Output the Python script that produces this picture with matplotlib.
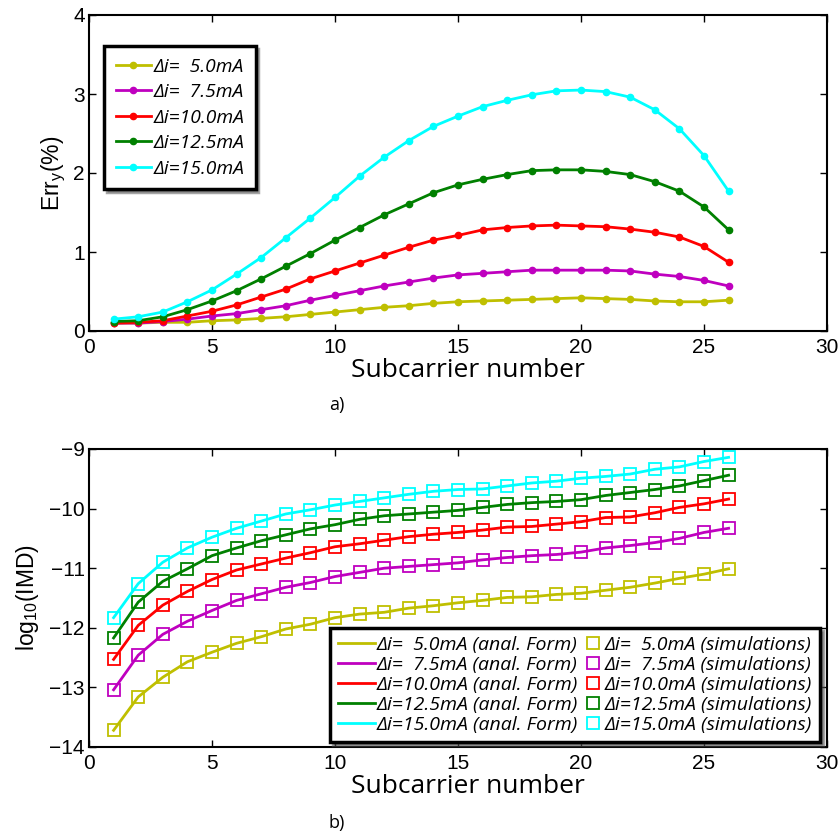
import matplotlib
matplotlib.use("Agg")
import matplotlib.pyplot as plt
from matplotlib.legend_handler import HandlerLine2D
import numpy as np

subcarriers = list(range(1, 27))

labels = ["\u0394i=  5.0mA", "\u0394i=  7.5mA", "\u0394i=10.0mA", "\u0394i=12.5mA", "\u0394i=15.0mA"]
colors = ["#bfbf00", "#bf00bf", "#ff0000", "#008000", "#00ffff"]

err_5 = [0.10, 0.10, 0.11, 0.11, 0.13, 0.14, 0.16, 0.18, 0.21, 0.24, 0.27, 0.30, 0.32,
         0.35, 0.37, 0.38, 0.39, 0.40, 0.41, 0.42, 0.41, 0.40, 0.38, 0.37, 0.37, 0.39]
err_7_5 = [0.10, 0.10, 0.12, 0.15, 0.19, 0.22, 0.27, 0.32, 0.39, 0.45, 0.51, 0.57, 0.62,
           0.67, 0.71, 0.73, 0.75, 0.77, 0.77, 0.77, 0.77, 0.76, 0.72, 0.69, 0.64, 0.57]
err_10 = [0.10, 0.11, 0.13, 0.19, 0.25, 0.33, 0.43, 0.53, 0.66, 0.76, 0.86, 0.96, 1.06,
          1.15, 1.21, 1.28, 1.31, 1.33, 1.34, 1.33, 1.32, 1.29, 1.25, 1.19, 1.07, 0.87]
err_12_5 = [0.12, 0.13, 0.18, 0.27, 0.38, 0.51, 0.66, 0.82, 0.98, 1.15, 1.31, 1.47, 1.61,
            1.75, 1.85, 1.92, 1.98, 2.03, 2.04, 2.04, 2.02, 1.98, 1.89, 1.77, 1.57, 1.28]
err_15 = [0.15, 0.18, 0.24, 0.37, 0.52, 0.72, 0.93, 1.18, 1.43, 1.69, 1.96, 2.20, 2.41,
          2.59, 2.72, 2.84, 2.92, 2.99, 3.04, 3.05, 3.03, 2.96, 2.80, 2.56, 2.22, 1.77]

imd_5 = [-13.72, -13.16, -12.83, -12.57, -12.41, -12.26, -12.15, -12.02, -11.94, -11.83,
         -11.77, -11.74, -11.67, -11.63, -11.58, -11.54, -11.49, -11.48, -11.44, -11.42,
         -11.37, -11.32, -11.25, -11.17, -11.10, -11.01]
imd_7_5 = [-13.04, -12.46, -12.11, -11.89, -11.71, -11.54, -11.43, -11.32, -11.24, -11.14,
           -11.07, -11.00, -10.97, -10.94, -10.91, -10.86, -10.82, -10.79, -10.77, -10.73,
           -10.66, -10.62, -10.57, -10.50, -10.40, -10.33]
imd_10 = [-12.53, -11.96, -11.62, -11.39, -11.19, -11.03, -10.93, -10.83, -10.74, -10.64,
          -10.59, -10.53, -10.47, -10.43, -10.40, -10.36, -10.31, -10.30, -10.26, -10.22,
          -10.15, -10.14, -10.07, -9.98, -9.92, -9.84]
imd_12_5 = [-12.17, -11.57, -11.22, -11.01, -10.79, -10.66, -10.54, -10.44, -10.34, -10.27,
            -10.18, -10.12, -10.09, -10.06, -10.03, -9.98, -9.93, -9.90, -9.88, -9.85,
            -9.78, -9.73, -9.68, -9.62, -9.53, -9.44]
imd_15 = [-11.83, -11.26, -10.90, -10.66, -10.48, -10.33, -10.21, -10.09, -10.02, -9.94,
          -9.88, -9.82, -9.76, -9.71, -9.68, -9.67, -9.62, -9.57, -9.54, -9.49,
          -9.46, -9.42, -9.34, -9.30, -9.21, -9.14]

err_series = [err_5, err_7_5, err_10, err_12_5, err_15]
imd_series = [imd_5, imd_7_5, imd_10, imd_12_5, imd_15]

W, H = 839, 834
fig = plt.figure(figsize=(W / 100, H / 100), dpi=100)

tick_family = "Liberation Sans"
label_font = "Open Sans"

def fbox(l, t, r, b):
    return [l / W, 1 - b / H, (r - l) / W, (b - t) / H]

# ---- top plot
ax1 = fig.add_axes(fbox(89, 15, 827, 331))
for ys, c, lab in zip(err_series, colors, labels):
    ax1.plot(subcarriers, ys, color=c, lw=2, marker="o", ms=4.5, label=lab)
ax1.set_xlim(0, 30)
ax1.set_ylim(0, 4)
ax1.set_xticks(range(0, 31, 5))
ax1.set_yticks(range(0, 5))
ax1.set_xlabel("Subcarrier number", fontsize=19, family=label_font, labelpad=1)
ax1.set_ylabel("Err$_\\mathregular{y}$(%)", fontsize=16.5, family=tick_family, labelpad=4)
leg1 = ax1.legend(loc="upper left", bbox_to_anchor=(0.0203, 0.902),
                  prop={"family": "Open Sans", "style": "italic", "size": 13.9},
                  frameon=True, fancybox=False, shadow=True, handlelength=1.85,
                  handletextpad=0.1, borderpad=0.6, labelspacing=0.39, borderaxespad=0)
leg1.get_frame().set_edgecolor("black")
leg1.get_frame().set_linewidth(2.5)

# ---- bottom plot
ax2 = fig.add_axes(fbox(89, 449, 827, 747))
line_handles = []
sq_handles = []
for ys, c, lab in zip(imd_series, colors, labels):
    h1, = ax2.plot(subcarriers, ys, color=c, lw=2, label=lab + " (anal. Form)")
    h2, = ax2.plot(subcarriers, ys, ls="none", marker="s", ms=8, mfc="none", mec=c,
                   mew=1.3, label=lab + " (simulations)")
    line_handles.append(h1)
    sq_handles.append(h2)
ax2.set_xlim(0, 30)
ax2.set_ylim(-14, -9)
ax2.set_xticks(range(0, 31, 5))
ax2.set_yticks(range(-14, -8))
ax2.set_xlabel("Subcarrier number", fontsize=19, family=label_font, labelpad=1)
ax2.set_ylabel("log$_\\mathregular{10}$(IMD)", fontsize=16.5, family=tick_family, labelpad=6)
sq_handler = HandlerLine2D(numpoints=1, xpad=0.88)
leg2 = ax2.legend(line_handles + sq_handles,
                  [h.get_label() for h in line_handles + sq_handles],
                  ncol=2, loc="lower right", bbox_to_anchor=(0.9905, 0.017),
                  prop={"family": "Open Sans", "style": "italic", "size": 14},
                  frameon=True, fancybox=False, shadow=True, handlelength=1.9,
                  handletextpad=0.1, borderpad=0.4, labelspacing=0.11, columnspacing=-0.6,
                  borderaxespad=0, markerscale=1.0,
                  handler_map={h: sq_handler for h in sq_handles})
leg2.get_frame().set_edgecolor("black")
leg2.get_frame().set_linewidth(2.5)

for ax in (ax1, ax2):
    for sp in ax.spines.values():
        sp.set_linewidth(1.5)
    ax.tick_params(direction="in", length=5, width=1, top=True, right=True)
    ax.tick_params(axis="x", pad=5)
    ax.tick_params(axis="y", pad=3)
    for t in ax.get_xticklabels() + ax.get_yticklabels():
        t.set_fontfamily(tick_family)
        t.set_fontsize(15)
    ax.xaxis.label.set_x(0.5136)

fig.text(337 / W, 1 - 405 / H, "a)", ha="center", va="center", fontsize=13, family=label_font)
fig.text(337 / W, 1 - 823 / H, "b)", ha="center", va="center", fontsize=13, family=label_font)

fig.savefig("out.png", dpi=100)
